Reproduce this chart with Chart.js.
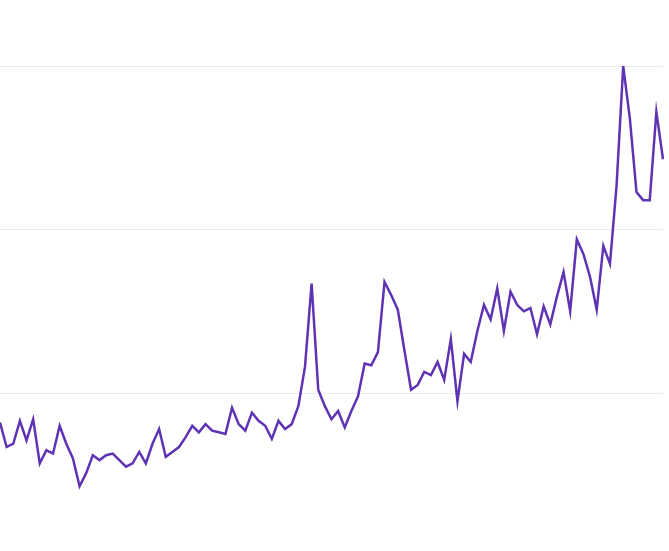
<!DOCTYPE html>
<html>
<head>
<meta charset="utf-8">
<script src="https://cdn.jsdelivr.net/npm/chart.js@4"></script>
<style>
  html, body { margin: 0; padding: 0; background: #fff; }
  #wrap { width: 669px; height: 551px; }
</style>
</head>
<body>
<div id="wrap"><canvas id="chart"></canvas></div>
<script>
// Series values (gridlines sit at 100, 200, 300)
const values = [
    82, 67, 69, 83, 71, 84, 57, 65, 63, 80,
    69, 60, 43, 51, 62, 59, 62, 63, 59, 55,
    57, 64, 57, 69, 78, 61, 64, 67, 73, 80,
    76, 81, 77, 76, 75, 91, 81, 77, 88, 83,
    80, 72, 83, 78, 81, 92, 116, 167, 102, 92,
    84, 89, 79, 89, 98, 118, 117, 125, 168, 160,
    151, 126, 102, 105, 113, 111, 119, 108, 133, 95,
    124, 119, 138, 154, 145, 164, 138, 162, 154, 150,
    152, 136, 153, 142, 159, 174, 150, 194, 185, 171,
    151, 190, 179, 227, 300, 268, 223, 218, 218, 272,
    243
];
const categories = values.map((v, i) => i);
const gridTicks = [100, 200, 300];

const ctx = document.getElementById('chart').getContext('2d');
new Chart(ctx, {
    type: 'line',
    data: {
        labels: categories,
        datasets: [{
            data: values,
            borderColor: '#5e33b4',
            borderWidth: 2.5,
            pointRadius: 0,
            tension: 0,
            fill: false,
        }],
    },
    options: {
        responsive: true,
        maintainAspectRatio: false,
        animation: false,
        layout: { padding: { left: 0, right: 6, top: 0, bottom: 0 } },
        plugins: { legend: { display: false }, tooltip: { enabled: false } },
        scales: {
            x: {
                display: false,
                offset: false,
            },
            y: {
                min: 3.4,
                max: 340.4,
                border: { display: false },
                grid: { color: '#ebebeb', drawTicks: false },
                ticks: { display: false },
                afterBuildTicks: (scale) => {
                    scale.ticks = gridTicks.map(v => ({ value: v }));
                },
            },
        },
    },
});
</script>
</body>
</html>
